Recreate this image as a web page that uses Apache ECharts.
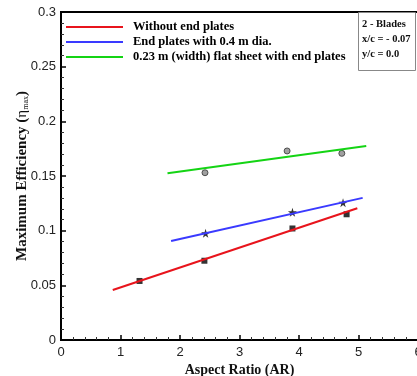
<!DOCTYPE html>
<html>
<head>
<meta charset="utf-8">
<script src="https://cdn.jsdelivr.net/npm/echarts@6/dist/echarts.min.js"></script>
<style>
  html, body { margin: 0; padding: 0; background: #fff; }
  #chart { width: 417px; height: 376px; }
</style>
</head>
<body>
<div id="chart"></div>
<script>
// fitted lines (two end points each)
const redLineX = [0.87, 4.98];
const redLineY = [0.0457, 0.1205];
const blueLineX = [1.85, 5.07];
const blueLineY = [0.0905, 0.130];
const greenLineX = [1.79, 5.13];
const greenLineY = [0.1525, 0.1774];

// measured points
const redPtsX = [1.32, 2.41, 3.89, 4.80];
const redPtsY = [0.054, 0.0725, 0.102, 0.115];
const bluePtsX = [2.43, 3.89, 4.74];
const bluePtsY = [0.0976, 0.1168, 0.1256];
const greenPtsX = [2.42, 3.80, 4.72];
const greenPtsY = [0.153, 0.1729, 0.1707];

const seriesNames = [
  'Without end plates',
  'End plates with 0.4 m dia.',
  '0.23 m (width) flat sheet with end plates'
];
const infoLines = ['2 - Blades', 'x/c = - 0.07', 'y/c = 0.0'];

const zip = (xs, ys) => xs.map((x, i) => [x, ys[i]]);

const serif = '"Liberation Serif", "DejaVu Serif", serif';
const sans = '"Liberation Sans", Arial, sans-serif';

const starPath = 'path://M50,0 L61,35 L98,35 L68,57 L79,91 L50,70 L21,91 L32,57 L2,35 L39,35 Z';

const chart = echarts.init(document.getElementById('chart'));

const axisCommon = {
  type: 'value',
  splitLine: { show: false },
  nameMoveOverlap: false,
  axisLine: { show: true, onZero: false, lineStyle: { color: '#000', width: 2 } },
  axisTick: { show: true, inside: true, length: 5, lineStyle: { color: '#000', width: 1.5 } },
  minorTick: { show: true, splitNumber: 5, length: 3, lineStyle: { color: '#333', width: 1 } },
  axisLabel: { color: '#222', fontFamily: sans, fontSize: 13 }
};

chart.setOption({
  animation: false,
  backgroundColor: '#fff',
  grid: {
    left: 61, top: 12, width: 357, height: 328,
    outerBoundsMode: 'none',
    show: true, borderColor: '#000', borderWidth: 2
  },
  title: {
    text: infoLines.join('\n'),
    left: 358, top: 12,
    borderColor: '#888', borderWidth: 1,
    padding: [5, 5, 9, 4],
    textStyle: { fontFamily: serif, fontWeight: 'bold', fontSize: 10.5, lineHeight: 15, color: '#111' }
  },
  legend: {
    data: seriesNames,
    orient: 'vertical',
    left: 66, top: 20,
    padding: 0,
    icon: 'rect',
    itemWidth: 57, itemHeight: 2,
    itemGap: 1,
    textStyle: { fontFamily: serif, fontWeight: 'bold', fontSize: 12.5, lineHeight: 14, color: '#000', padding: [0, 0, 0, 5] }
  },
  xAxis: Object.assign({}, axisCommon, {
    min: 0, max: 6, interval: 1,
    name: 'Aspect Ratio (AR)',
    nameLocation: 'middle', nameGap: 23,
    nameTextStyle: { fontFamily: serif, fontWeight: 'bold', fontSize: 14, color: '#111' },
    axisLabel: Object.assign({}, axisCommon.axisLabel, { margin: 6 })
  }),
  yAxis: Object.assign({}, axisCommon, {
    min: 0, max: 0.3, interval: 0.05,
    name: '{a|Maximum Efficiency (}{g|η}{s|max}{a|)}',
    nameLocation: 'middle', nameGap: 31, nameRotate: 90,
    nameTextStyle: {
      rich: {
        a: { fontFamily: serif, fontWeight: 'bold', fontSize: 15, color: '#111' },
        g: { fontFamily: serif, fontSize: 15, color: '#111' },
        s: { fontFamily: serif, fontSize: 8, color: '#111', verticalAlign: 'bottom', padding: [6, 0, 0, 0] }
      }
    },
    axisLabel: Object.assign({}, axisCommon.axisLabel, { margin: 5 })
  }),
  series: [
    { name: seriesNames[0], type: 'line', data: zip(redLineX, redLineY), showSymbol: false, symbol: 'none',
      lineStyle: { color: '#e8141c', width: 2 }, itemStyle: { color: '#e8141c' } },
    { name: seriesNames[1], type: 'line', data: zip(blueLineX, blueLineY), showSymbol: false, symbol: 'none',
      lineStyle: { color: '#3a3aff', width: 2 }, itemStyle: { color: '#3a3aff' } },
    { name: seriesNames[2], type: 'line', data: zip(greenLineX, greenLineY), showSymbol: false, symbol: 'none',
      lineStyle: { color: '#14d414', width: 2 }, itemStyle: { color: '#14d414' } },
    { name: 'redPts', type: 'scatter', data: zip(redPtsX, redPtsY), symbol: 'rect', symbolSize: 6,
      itemStyle: { color: '#000' } },
    { name: 'bluePts', type: 'scatter', data: zip(bluePtsX, bluePtsY), symbol: starPath, symbolSize: 9,
      itemStyle: { color: '#000' } },
    { name: 'greenPts', type: 'scatter', data: zip(greenPtsX, greenPtsY), symbol: 'circle', symbolSize: 6,
      itemStyle: { color: '#888', borderColor: '#333', borderWidth: 1 } }
  ]
});
</script>
</body>
</html>
